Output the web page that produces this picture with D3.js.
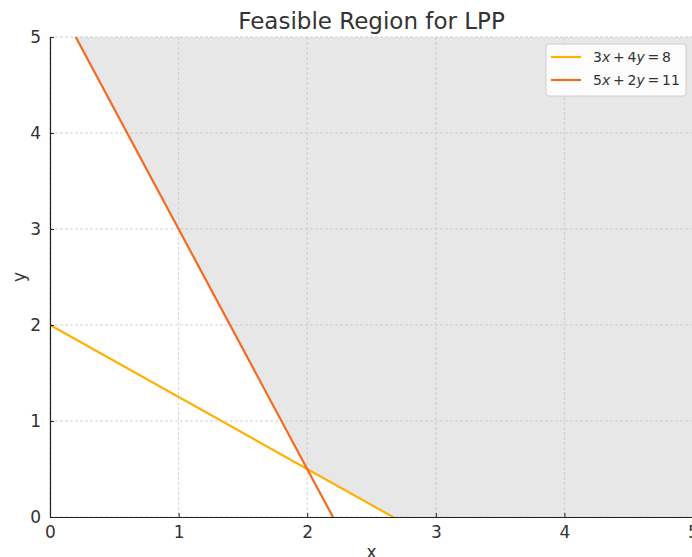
<!DOCTYPE html>
<html>
<head>
<meta charset="utf-8">
<script src="https://cdn.jsdelivr.net/npm/d3@7"></script>
<style>
  body { margin: 0; background: #fff; }
  text { font-family: "DejaVu Sans", sans-serif; fill: #333; }
</style>
</head>
<body>
<div id="canvas"></div>
<script>
// constraint lines: a*x + b*y = c
const lineNames = ["3x + 4y = 8", "5x + 2y = 11"];
const lineCoefs = [[3, 4, 8], [5, 2, 11]];
const lineColors = ["#ffb000", "#f26b21"];
// feasible region corners (x, y)
const regionX = [0.2, 2, 8 / 3, 5, 5];
const regionY = [5, 0.5, 0, 0, 5];
const xTicks = [0, 1, 2, 3, 4, 5];
const yTicks = [0, 1, 2, 3, 4, 5];

const width = 692;
const height = 557;
const margin = { top: 37, left: 50, bottom: 40, right: -1 };
const iwidth = width - margin.left - margin.right;
const iheight = height - margin.top - margin.bottom;

const svg = d3.select("#canvas").append("svg")
  .attr("width", width)
  .attr("height", height);

const g = svg.append("g").attr("transform", `translate(${margin.left},${margin.top})`);

const x = d3.scaleLinear().domain([0, 5]).range([0, iwidth]);
const y = d3.scaleLinear().domain([0, 5]).range([iheight, 0]);

// shaded region
g.append("path")
  .datum(regionX.map((v, i) => [v, regionY[i]]))
  .attr("fill", "#e7e7e7")
  .attr("d", d3.line().x(d => x(d[0])).y(d => y(d[1])));

// grid
g.selectAll(".gx").data(xTicks).enter().append("line")
  .attr("x1", d => x(d)).attr("x2", d => x(d))
  .attr("y1", 0).attr("y2", iheight)
  .attr("stroke", "#c8c8c8").attr("stroke-width", 0.8).attr("stroke-dasharray", "3,2");
g.selectAll(".gy").data(yTicks).enter().append("line")
  .attr("x1", 0).attr("x2", iwidth)
  .attr("y1", d => y(d)).attr("y2", d => y(d))
  .attr("stroke", "#c8c8c8").attr("stroke-width", 0.8).attr("stroke-dasharray", "3,2");

// constraint lines, clipped to plot
svg.append("clipPath").attr("id", "clip").append("rect")
  .attr("width", iwidth).attr("height", iheight);

const xs = [0, 5];
lineCoefs.forEach((c, i) => {
  g.append("line")
    .attr("clip-path", "url(#clip)")
    .attr("x1", x(xs[0])).attr("y1", y((c[2] - c[0] * xs[0]) / c[1]))
    .attr("x2", x(xs[1])).attr("y2", y((c[2] - c[0] * xs[1]) / c[1]))
    .attr("stroke", lineColors[i]).attr("stroke-width", 2.2);
});

// axes
const xAxis = g.append("g")
  .attr("transform", `translate(0, ${iheight})`)
  .call(d3.axisBottom(x).tickValues(xTicks).tickFormat(d3.format("d")).tickSizeInner(-4).tickSizeOuter(0).tickPadding(9));
const yAxis = g.append("g")
  .call(d3.axisLeft(y).tickValues(yTicks).tickFormat(d3.format("d")).tickSizeInner(-4).tickSizeOuter(0).tickPadding(9));

[xAxis, yAxis].forEach(a => {
  a.select(".domain").attr("stroke", "#222").attr("stroke-width", 1.2);
  a.selectAll(".tick line").attr("stroke", "#222");
  a.selectAll(".tick text").attr("font-size", 17).attr("fill", "#222")
    .style("font-family", "DejaVu Sans, sans-serif");
});

// title and labels
svg.append("text")
  .attr("x", margin.left + iwidth / 2).attr("y", 29)
  .attr("text-anchor", "middle").attr("font-size", 23)
  .text("Feasible Region for LPP");
svg.append("text")
  .attr("x", margin.left + iwidth / 2).attr("y", 558)
  .attr("text-anchor", "middle").attr("font-size", 17)
  .text("x");
svg.append("text")
  .attr("transform", `translate(25, ${margin.top + iheight / 2}) rotate(-90)`)
  .attr("text-anchor", "middle").attr("font-size", 17)
  .text("y");

// legend
const lg = svg.append("g").attr("transform", "translate(546, 44)");
lg.append("rect")
  .attr("width", 140).attr("height", 52).attr("rx", 3)
  .attr("fill", "#fff").attr("fill-opacity", 0.85)
  .attr("stroke", "#d0d0d0");
lineNames.forEach((name, i) => {
  const row = lg.append("g").attr("transform", `translate(0, ${13 + i * 23})`);
  row.append("line")
    .attr("x1", 5).attr("x2", 35)
    .attr("stroke", lineColors[i]).attr("stroke-width", 2.2);
  const t = row.append("text").attr("x", 47).attr("y", 5).attr("font-size", 14);
  // italic variables, like math text
  name.split(/([xy])/).forEach(part => {
    if (!part) return;
    t.append("tspan")
      .style("font-style", /^[xy]$/.test(part) ? "italic" : "normal")
      .text(part.replace(/ /g, "\u2009"));
  });
});
</script>
</body>
</html>
